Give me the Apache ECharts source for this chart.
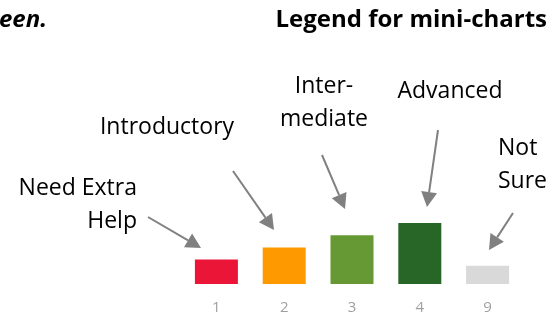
<!DOCTYPE html>
<html>
<head>
<meta charset="utf-8">
<title>Legend for mini-charts</title>
<script src="https://cdn.jsdelivr.net/npm/echarts@6/dist/echarts.min.js"></script>
<style>
  html, body { margin: 0; padding: 0; background: #fff; }
  #main { width: 554px; height: 315px; }
</style>
</head>
<body>
<div id="main"></div>
<script>
// mini-chart legend data
var categories = ['1', '2', '3', '4', '9'];
var levels = [2, 3, 4, 5, 1.5];
var barColors = ['#EA1537', '#FF9900', '#669933', '#276627', '#D9D9D9'];

var font = '"Open Sans", "Liberation Sans", sans-serif';
var arrowColor = '#808080';

// line + triangular head, pointing from (x1,y1) to (x2,y2)
function arrow(x1, y1, x2, y2) {
    var dx = x2 - x1, dy = y2 - y1;
    var len = Math.sqrt(dx * dx + dy * dy);
    var ux = dx / len, uy = dy / len;
    var hl = 15, hw = 8;
    var bx = x2 - ux * hl, by = y2 - uy * hl;
    return [
        {
            type: 'line',
            shape: {x1: x1, y1: y1, x2: bx, y2: by},
            style: {stroke: arrowColor, lineWidth: 2}
        },
        {
            type: 'polygon',
            shape: {points: [[x2, y2], [bx - uy * hw, by + ux * hw], [bx + uy * hw, by - ux * hw]]},
            style: {fill: arrowColor}
        }
    ];
}

// y is roughly the baseline of the first line
function label(text, x, y, align) {
    return {
        type: 'text',
        style: {
            text: text, x: x, y: y - 23,
            textAlign: align || 'center', textVerticalAlign: 'top',
            font: '23px ' + font, fill: '#000', lineHeight: 33
        }
    };
}

var elements = [
    {
        type: 'text',
        style: {
            text: 'Legend for mini-charts', x: 547, y: 8, textAlign: 'right', textVerticalAlign: 'top',
            font: 'bold 24px ' + font, fill: '#000'
        }
    },
    {
        type: 'text',
        style: {
            text: 'een.', x: -1, y: 8, textAlign: 'left', textVerticalAlign: 'top',
            font: 'italic bold 24px ' + font, fill: '#000'
        }
    },
    label('Need Extra\nHelp', 137, 195, 'right'),
    label('Introductory', 167, 134),
    label('Inter-\nmediate', 324, 93),
    label('Advanced', 450, 98),
    label('Not\nSure', 498, 155, 'left')
];
elements = elements
    .concat(arrow(148, 217, 201, 248))
    .concat(arrow(233, 171, 274, 230))
    .concat(arrow(322, 155, 345, 209))
    .concat(arrow(438, 130, 427, 207))
    .concat(arrow(513, 213, 489, 250));

var myChart = echarts.init(document.getElementById('main'));
var option = {
    animation: false,
    grid: {left: 182.5, right: 32.5, top: 223, bottom: 29},
    xAxis: {
        type: 'category',
        data: categories,
        axisLine: {show: false},
        axisTick: {show: false},
        axisLabel: {color: '#A0A0A0', fontSize: 15, fontFamily: font, margin: 16}
    },
    yAxis: {
        type: 'value',
        min: 0,
        max: 5,
        show: false
    },
    series: [{
        type: 'bar',
        barWidth: 43,
        data: levels.map(function (v, i) {
            return {value: v, itemStyle: {color: barColors[i]}};
        })
    }],
    graphic: {elements: elements}
};
myChart.setOption(option);
</script>
</body>
</html>
